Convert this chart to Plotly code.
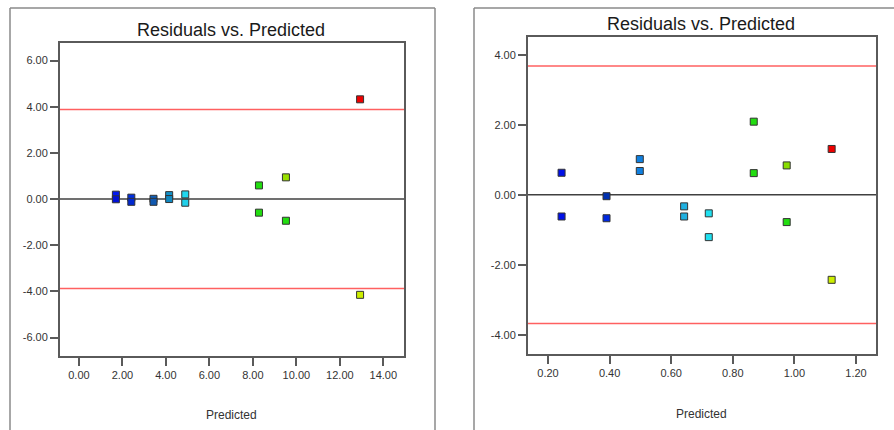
import plotly.graph_objects as go

W, H = 894, 430

# ---- data: response 1 ----
pred_1 = [1.70, 1.70, 2.41, 2.41, 3.43, 3.43, 4.15, 4.15, 4.89, 4.89,
          8.28, 8.28, 9.52, 9.52, 12.93, 12.93]
resid_1 = [0.19, -0.01, 0.06, -0.12, 0.01, -0.12, 0.17, 0.00, 0.20, -0.16,
           0.59, -0.59, 0.94, -0.94, 4.32, -4.15]
colors_1 = ["#0018f0", "#0010d8", "#0030e0", "#0028d0", "#1060b8", "#1058b0",
            "#1090c8", "#1088c0", "#20d8f0", "#20d0ea",
            "#22dd10", "#22dd10", "#99e000", "#22dd10", "#ee0000", "#ccee00"]
limit_1 = 3.88

# ---- data: response 2 ----
pred_2 = [0.244, 0.244, 0.39, 0.39, 0.498, 0.498, 0.642, 0.642, 0.722, 0.722,
          0.868, 0.868, 0.975, 0.975, 1.121, 1.121]
resid_2 = [0.63, -0.62, -0.04, -0.67, 1.02, 0.68, -0.33, -0.62, -0.53, -1.21,
           2.09, 0.62, 0.84, -0.78, 1.31, -2.43]
colors_2 = ["#0010e8", "#0010e8", "#0030b0", "#0028e0", "#1080e0", "#1080e0",
            "#20b0e0", "#20b0e0", "#20e0f0", "#20e0f0",
            "#22dd10", "#22dd10", "#88dd00", "#22dd10", "#ee0000", "#ccee00"]
limit_2 = 3.68

x_ticks_1 = [0, 2, 4, 6, 8, 10, 12, 14]
y_ticks_1 = [-6, -4, -2, 0, 2, 4, 6]
x_ticks_2 = [0.2, 0.4, 0.6, 0.8, 1.0, 1.2]
y_ticks_2 = [-4, -2, 0, 2, 4]

FONT = "Liberation Sans, Arial, sans-serif"
AXIS_GRAY = "#5a5a5a"


def px_x(v):
    return v / W


def px_y(v):
    return 1 - v / H


def labels(vals):
    # two decimals with a plain hyphen for negatives
    return [f"{v:.2f}" for v in vals]


fig = go.Figure()

for i, (px, ry, cl) in enumerate([(pred_1, resid_1, colors_1), (pred_2, resid_2, colors_2)]):
    fig.add_trace(go.Scatter(
        x=px, y=ry, mode="markers",
        xaxis="x" if i == 0 else "x2", yaxis="y" if i == 0 else "y2",
        marker=dict(symbol="square", size=7, color=cl,
                    line=dict(color="#333333", width=1)),
        showlegend=False, hoverinfo="x+y",
    ))

axis_common = dict(
    showgrid=False, zeroline=False, showline=True, mirror=True,
    linecolor=AXIS_GRAY, linewidth=2, ticks="outside", ticklen=8,
    tickcolor=AXIS_GRAY, tickwidth=2,
    tickfont=dict(family=FONT, size=11, color="#333333"),
)

fig.update_layout(
    width=W, height=H,
    margin=dict(l=0, r=0, t=0, b=0),
    paper_bgcolor="white", plot_bgcolor="white",
    xaxis=dict(domain=[px_x(60), px_x(404)], range=[-0.87, 14.95],
               tickvals=x_ticks_1, ticktext=labels(x_ticks_1), anchor="y", **axis_common),
    yaxis=dict(domain=[px_y(356), px_y(43)], range=[-6.80, 6.76],
               tickvals=y_ticks_1, ticktext=labels(y_ticks_1), anchor="x", **axis_common),
    xaxis2=dict(domain=[px_x(528), px_x(876)], range=[0.135, 1.265],
                tickvals=x_ticks_2, ticktext=labels(x_ticks_2), anchor="y2", **axis_common),
    yaxis2=dict(domain=[px_y(354), px_y(37)], range=[-4.55, 4.51],
                tickvals=y_ticks_2, ticktext=labels(y_ticks_2), anchor="x2", **axis_common),
)

shapes = []
# reference lines: zero residual and the +/- limits
for xr, yr, lim in [("x domain", "y", limit_1), ("x2 domain", "y2", limit_2)]:
    shapes.append(dict(type="line", xref=xr, yref=yr, x0=0, x1=1, y0=0, y1=0,
                       line=dict(color="#404040", width=1.5), layer="below"))
    for s in (lim, -lim):
        shapes.append(dict(type="line", xref=xr, yref=yr, x0=0, x1=1, y0=s, y1=s,
                           line=dict(color="#ff6060", width=1.5), layer="below"))

# outer panel frames
frame = dict(color="#8a8a8a", width=1.5)
shapes += [
    dict(type="line", xref="paper", yref="paper", x0=px_x(10), x1=px_x(10),
         y0=px_y(8), y1=-0.05, line=frame),
    dict(type="line", xref="paper", yref="paper", x0=px_x(10), x1=px_x(435),
         y0=px_y(8), y1=px_y(8), line=frame),
    dict(type="line", xref="paper", yref="paper", x0=px_x(435), x1=px_x(435),
         y0=px_y(8), y1=-0.05, line=frame),
    dict(type="line", xref="paper", yref="paper", x0=px_x(474), x1=px_x(474),
         y0=px_y(8), y1=-0.05, line=frame),
    dict(type="line", xref="paper", yref="paper", x0=px_x(474), x1=1.05,
         y0=px_y(8), y1=px_y(8), line=frame),
]
fig.update_layout(shapes=shapes)

annotations = []
for cx, ty, xy in [(231, 30, 415), (701, 24, 414)]:
    annotations.append(dict(xref="paper", yref="paper", x=px_x(cx), y=px_y(ty),
                            text="Residuals vs. Predicted", showarrow=False,
                            xanchor="center", yanchor="middle",
                            font=dict(family=FONT, size=18, color="#1a1a1a")))
    annotations.append(dict(xref="paper", yref="paper", x=px_x(cx), y=px_y(xy),
                            text="Predicted", showarrow=False,
                            xanchor="center", yanchor="middle",
                            font=dict(family=FONT, size=12, color="#333333")))
fig.update_layout(annotations=annotations)

fig.write_html("out.html")
